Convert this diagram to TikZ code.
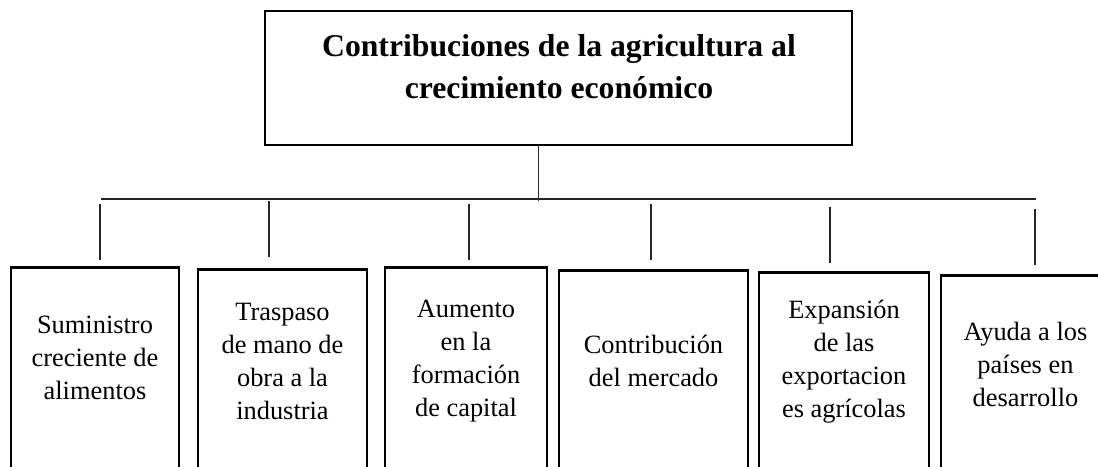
\documentclass[tikz,border=0pt]{standalone}
\usepackage{fontspec}
\setmainfont{Liberation Serif}
\usetikzlibrary{calc}

\begin{document}
\begin{tikzpicture}[x=1pt, y=-1pt,
            frame/.style = {rectangle, draw, line width=2.8pt, anchor=north, minimum height=230pt},
            boxtext/.style = {align=center, inner sep=0pt, font=\fontsize{26.4}{33}\selectfont},
            link/.style = {line width=1.1pt, color=black!85}]
            \useasboundingbox (0, 0) rectangle (1098, 466);
            \clip (0, 0) rectangle (1098, 466);

            \node[rectangle, draw, line width=2.8pt, minimum width=587pt, minimum height=134pt] (top) at (558.5, 78) {};
            \node[align=center, inner sep=0pt, font=\fontsize{31.7}{42}\selectfont\bfseries] (title) at (559, 67) {Contribuciones de la agricultura al\\crecimiento económico};

            \node[frame, minimum width=168pt] (b1) at (95, 266) {};
            \node[frame, minimum width=169pt] (b2) at (282.5, 268) {};
            \node[frame, minimum width=162pt] (b3) at (466, 266) {};
            \node[frame, minimum width=189pt] (b4) at (653.5, 269) {};
            \node[frame, minimum width=170pt] (b5) at (844, 271) {};
            \node[frame, minimum width=169pt] (b6) at (1025.5, 274) {};

            \node[boxtext] (t1) at (95, 358) {Suministro\\creciente de\\alimentos};
            \node[boxtext] (t2) at (282.5, 361) {Traspaso\\de mano de\\obra a la\\industria};
            \node[boxtext] (t3) at (466, 361) {Aumento\\en la\\formación\\de capital};
            \node[boxtext] (t4) at (653.5, 361) {Contribución\\del mercado};
            \node[boxtext] (t5) at (844, 362) {Expansión\\de las\\exportacion\\es agrícolas};
            \node[boxtext] (t6) at (1025.5, 364) {Ayuda a los\\países en\\desarrollo};

            \coordinate (busL) at (101, 199);
            \coordinate (busR) at (1036, 199);
            \coordinate (stem) at (538.5, 201);
            \draw[link] (busL) -- (busR);
            \draw[link] (stem) -- (stem |- top.south);

            \foreach \n/\x/\ya/\yb in {1/100/204/260, 2/269/201/257, 3/469/204/260, 4/651/204/260, 5/830/207/263, 6/1035/209/265}
            {
                \coordinate (u\n) at (\x, \ya);
                \coordinate (l\n) at (\x, \yb);
                \draw[link] (u\n) -- (l\n);
            }
        \end{tikzpicture}
\end{document}
